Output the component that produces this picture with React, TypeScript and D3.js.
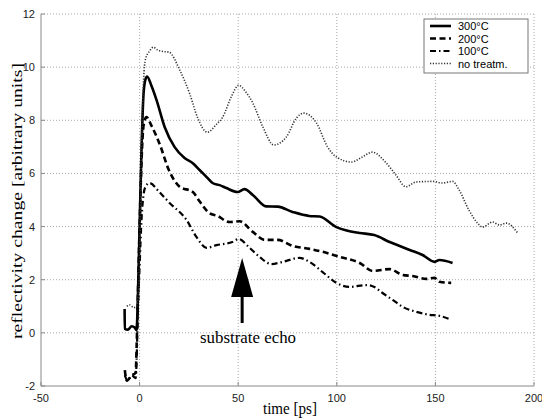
import React from "react";
import * as d3 from "d3";

const xTicks = [-50, 0, 50, 100, 150, 200];
const yTicks = [-2, 0, 2, 4, 6, 8, 10, 12];

const legendLabels = ["300°C", "200°C", "100°C", "no treatm."];

const series300: [number, number][] = [
  [-7.6, 0.9], [-7.5, 0.15], [-6, 0.12], [-4, 0.25], [-2.5, 0.2], [-1.5, 0.1], [-1, 1], [0, 4], [1, 7], [2, 9], [3, 9.55], [3.8, 9.65],
  [6, 9.3], [8.6, 8.76], [12.7, 7.75], [17.7, 7.0], [22.8, 6.58], [27, 6.38], [30.4, 6.13], [34, 5.86], [37, 5.64], [40.6, 5.56], [44, 5.45],
  [49.7, 5.3], [53.2, 5.41], [57.4, 5.19], [64.2, 4.76], [70, 4.75], [77.6, 4.55], [86, 4.4], [91.3, 4.38], [99.8, 3.98],
  [105, 3.85], [111.6, 3.76], [119, 3.68], [126.8, 3.42], [137, 3.12], [143.5, 2.93], [149.6, 2.67], [152, 2.74], [158.7, 2.63],
];

const series200: [number, number][] = [
  [-7.5, -1.4], [-6.5, -1.8], [-4, -1.6], [-2, -1.5], [-1.5, -0.5], [-1, 1], [0, 4], [1, 6.5], [2, 7.8], [3.5, 8.12],
  [6, 7.8], [10, 7.14], [15, 6.1], [20.3, 5.5], [27, 5.3], [30.4, 4.95], [35.5, 4.5], [39.5, 4.4], [45.6, 4.17], [50.7, 4.2],
  [57.4, 3.8], [63.4, 3.5], [70, 3.5], [77.6, 3.27], [86.2, 3.16], [92.8, 3.05], [101.4, 2.86], [111.6, 2.63], [118.2, 2.33],
  [126.8, 2.4], [133.4, 2.18], [138.4, 2.14], [145.5, 2.03], [149.6, 2.07], [152, 1.92], [158, 1.88],
];

const series100: [number, number][] = [
  [-7.5, -1.6], [-6, -1.8], [-4, -1.6], [-2, -1.7], [-1.5, -1], [-1, 0.5], [0, 2.5], [1, 4.3], [2, 5.2], [3, 5.5], [5, 5.64],
  [10, 5.3], [15.2, 4.89], [23.8, 4.25], [28.9, 3.6], [34, 3.2], [39, 3.3], [47, 3.42], [50.2, 3.53], [55.8, 3.2], [60.8, 2.86],
  [66.9, 2.59], [72.5, 2.67], [81, 2.82], [86.2, 2.67], [92.8, 2.29], [99.8, 1.88], [106.5, 1.73], [115, 1.8], [119, 1.73],
  [123.2, 1.5], [128.3, 1.24], [134.4, 0.94], [140.4, 0.79], [147, 0.68], [152, 0.64], [158, 0.49],
];

const seriesNone: [number, number][] = [
  [-6.5, 1.0], [-5, 1.05], [-3, 0.95], [-1.5, 1.0], [-0.5, 1.6], [0, 3], [1, 7], [2, 9.5], [3, 10.3], [5, 10.6], [7, 10.75],
  [9, 10.65], [11, 10.6], [15, 10.56], [20.3, 9.9], [25.4, 9.0], [29.4, 8.1], [34.3, 7.55], [39, 7.85], [42, 8.1], [46.6, 8.9],
  [50.2, 9.32], [53.5, 9.1], [57.4, 8.65], [62.5, 7.75], [68, 7.07], [74.4, 7.37], [79.5, 8.08], [83.2, 8.27], [89.7, 7.9],
  [95.3, 7.0], [99.8, 6.62], [107.5, 6.43], [113, 6.62], [118, 6.8], [125, 6.4], [130, 5.94], [135, 5.5], [140.4, 5.68],
  [148.6, 5.7], [153.6, 5.64], [158.7, 5.7], [162, 5.38], [167, 4.62], [171.4, 4.13], [174, 3.98], [179, 4.17], [182.5, 4.06],
  [186, 4.13], [191.7, 3.76],
];

const W = 542;
const H = 419;
const M = { left: 41, right: 534, top: 14, bottom: 386 };

export default function App() {
  const x = d3.scaleLinear().domain([-50, 200]).range([M.left, M.right]);
  const y = d3.scaleLinear().domain([-2, 12]).range([M.bottom, M.top]);
  const line = d3
    .line<[number, number]>()
    .x((d) => x(d[0]))
    .y((d) => y(d[1]))
    .curve(d3.curveMonotoneX);

  const styles = [
    { data: series300, dash: "none", w: 2.6, color: "#000" },
    { data: series200, dash: "6,3.5", w: 2.6, color: "#000" },
    { data: series100, dash: "6,3,1.5,3", w: 2.2, color: "#000" },
    { data: seriesNone, dash: "1.2,1.6", w: 1.6, color: "#333" },
  ];

  const legX = 424, legY = 19, legW = 104, legH = 54;
  const rowY = [26, 38.5, 51, 63.5];

  const arrowX = x(52);
  const serif = "Liberation Serif, Times New Roman, serif";
  const sans = "Liberation Sans, Arial, sans-serif";

  return (
    <svg width={W} height={H} style={{ position: "absolute", left: 0, top: 0, background: "#fff" }}>
      <rect x={0} y={0} width={W} height={H} fill="#fff" />
      {/* grid */}
      {xTicks.slice(1).map((t) => (
        <line key={"gx" + t} x1={x(t)} x2={x(t)} y1={M.top} y2={M.bottom} stroke="#aaa" strokeWidth={1} strokeDasharray="1,2" />
      ))}
      {yTicks.slice(1).map((t) => (
        <line key={"gy" + t} x1={M.left} x2={M.right} y1={y(t)} y2={y(t)} stroke="#aaa" strokeWidth={1} strokeDasharray="1,2" />
      ))}
      {/* axes */}
      <line x1={M.left} x2={M.left} y1={M.top} y2={M.bottom} stroke="#888" strokeWidth={1} />
      <line x1={M.left} x2={M.right} y1={M.bottom} y2={M.bottom} stroke="#888" strokeWidth={1} />
      {xTicks.map((t) => (
        <g key={"xt" + t}>
          <line x1={x(t)} x2={x(t)} y1={M.bottom} y2={M.bottom - 4} stroke="#888" />
          <text x={x(t)} y={M.bottom + 16} textAnchor="middle" fontFamily={sans} fontSize={11} fill="#222">
            {t}
          </text>
        </g>
      ))}
      {yTicks.map((t) => (
        <g key={"yt" + t}>
          <line x1={M.left} x2={M.left + 4} y1={y(t)} y2={y(t)} stroke="#888" />
          <text x={M.left - 6} y={y(t) + 4} textAnchor="end" fontFamily={sans} fontSize={11} fill="#222">
            {t}
          </text>
        </g>
      ))}
      {/* series */}
      {styles.map((s, i) => (
        <path key={"s" + i} d={line(s.data) || ""} fill="none" stroke={s.color} strokeWidth={s.w} strokeDasharray={s.dash} strokeLinejoin="round" />
      ))}
      {/* arrow */}
      <polygon points={`${arrowX},258 ${arrowX - 11},297 ${arrowX + 11},297`} fill="#000" />
      <line x1={arrowX} x2={arrowX} y1={295} y2={323} stroke="#000" strokeWidth={3} />
      <text x={248} y={343} textAnchor="middle" fontFamily={serif} fontSize={16} fill="#000" textLength={96} lengthAdjust="spacingAndGlyphs">
        substrate echo
      </text>
      {/* axis labels */}
      <text x={290} y={414} textAnchor="middle" fontFamily={serif} fontSize={16} fill="#000" textLength={54} lengthAdjust="spacingAndGlyphs">
        time [ps]
      </text>
      <text transform={`translate(22,201) rotate(-90)`} textAnchor="middle" fontFamily={serif} fontSize={15.5} fill="#000" textLength={276} lengthAdjust="spacingAndGlyphs">
        reflectivity change [arbitrary units]
      </text>
      {/* legend */}
      <rect x={legX} y={legY} width={legW} height={legH} fill="#fff" stroke="#777" strokeWidth={1} />
      {styles.map((s, i) => (
        <g key={"l" + i}>
          <line x1={legX + 6} x2={legX + 27} y1={rowY[i]} y2={rowY[i]} stroke={s.color} strokeWidth={s.w} strokeDasharray={s.dash} />
          <text x={legX + 34} y={rowY[i] + 4} fontFamily={sans} fontSize={11} fill="#000">
            {legendLabels[i]}
          </text>
        </g>
      ))}
    </svg>
  );
}
